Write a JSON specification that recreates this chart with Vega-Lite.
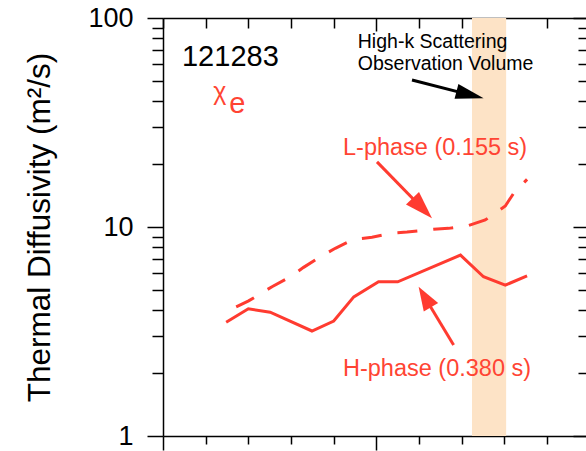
{
  "$schema": "https://vega.github.io/schema/vega-lite/v6.json",
  "width": 423,
  "height": 418,
  "autosize": {"type": "none"},
  "padding": {"left": 163, "top": 18, "right": 0, "bottom": 15},
  "background": "white",
  "config": {"view": {"stroke": null}, "font": "Liberation Sans"},
  "resolve": {"axis": {"x": "independent", "y": "independent"}},
  "layer": [
    {
      "data": {"values": [{"r_start": 0.724, "r_end": 0.804}]},
      "mark": {"type": "rect", "color": "#fde3c6"},
      "encoding": {
        "x": {
          "field": "r_start", "type": "quantitative",
          "scale": {"domain": [0, 0.9911], "nice": false, "zero": false},
          "axis": {
            "orient": "bottom", "values": [0, 0.1, 0.2, 0.3, 0.4, 0.5, 0.6, 0.7, 0.8, 0.9],
            "labels": false, "title": null, "grid": false,
            "domainColor": "black", "domainWidth": 1.5, "tickColor": "black", "tickWidth": 1.5,
            "tickSize": {"condition": {"test": "datum.value === 0 || datum.value === 0.5", "value": 14}, "value": 8}
          }
        },
        "x2": {"field": "r_end"},
        "y": {
          "datum": 1, "type": "quantitative",
          "scale": {"type": "log", "domain": [1, 100], "nice": false},
          "axis": {
            "orient": "left",
            "values": [1, 2, 3, 4, 5, 6, 7, 8, 9, 10, 20, 30, 40, 50, 60, 70, 80, 90, 100],
            "labelExpr": "(datum.value === 1 || datum.value === 10 || datum.value === 100) ? format(datum.value, 'd') : ''",
            "labelOverlap": false, "labelFontSize": 27, "labelColor": "black", "labelPadding": 14,
            "title": "Thermal Diffusivity (m²/s)", "titleFontSize": 31.5, "titleFontWeight": "normal",
            "titleColor": "black", "titlePadding": 31,
            "grid": false, "domainColor": "black", "domainWidth": 1.5, "tickColor": "black", "tickWidth": 1.5,
            "tickSize": {"condition": {"test": "datum.value === 1 || datum.value === 10 || datum.value === 100", "value": 16}, "value": 11}
          }
        },
        "y2": {"datum": 100}
      }
    },
    {
      "data": {"values": [
        {"r": 0.148, "chi": 3.50}, {"r": 0.2, "chi": 4.06}, {"r": 0.251, "chi": 3.91},
        {"r": 0.349, "chi": 3.18}, {"r": 0.40, "chi": 3.55}, {"r": 0.447, "chi": 4.63},
        {"r": 0.505, "chi": 5.47}, {"r": 0.55, "chi": 5.47}, {"r": 0.697, "chi": 7.34},
        {"r": 0.751, "chi": 5.78}, {"r": 0.802, "chi": 5.27}, {"r": 0.853, "chi": 5.83}
      ]},
      "mark": {"type": "line", "color": "#ff3b30", "strokeWidth": 3},
      "encoding": {
        "x": {
          "field": "r", "type": "quantitative",
          "axis": {
            "orient": "top", "values": [0, 0.1, 0.2, 0.3, 0.4, 0.5, 0.6, 0.7, 0.8, 0.9],
            "labels": false, "title": null, "grid": false,
            "domainColor": "black", "domainWidth": 1.5, "tickColor": "black", "tickWidth": 1.5,
            "tickSize": {"condition": {"test": "datum.value === 0.5", "value": -13}, "value": -10}
          }
        },
        "y": {
          "field": "chi", "type": "quantitative",
          "axis": {
            "orient": "right",
            "values": [1, 2, 3, 4, 5, 6, 7, 8, 9, 10, 20, 30, 40, 50, 60, 70, 80, 90, 100],
            "labels": false, "title": null, "grid": false, "domain": false,
            "tickColor": "black", "tickWidth": 1.5,
            "tickSize": {"condition": {"test": "datum.value === 1 || datum.value === 10 || datum.value === 100", "value": -13}, "value": -8}
          }
        }
      }
    },
    {
      "data": {"values": [
        {"r": 0.1715, "chi": 4.15}, {"r": 0.2006, "chi": 4.43}, {"r": 0.2554, "chi": 5.18},
        {"r": 0.2983, "chi": 5.78}, {"r": 0.3294, "chi": 6.41}, {"r": 0.3685, "chi": 7.21},
        {"r": 0.4037, "chi": 7.91}, {"r": 0.4466, "chi": 8.73}, {"r": 0.4897, "chi": 8.93},
        {"r": 0.5326, "chi": 9.33}, {"r": 0.5717, "chi": 9.46}, {"r": 0.634, "chi": 9.75},
        {"r": 0.669, "chi": 9.85}, {"r": 0.712, "chi": 10.1}, {"r": 0.755, "chi": 10.8},
        {"r": 0.802, "chi": 12.6}, {"r": 0.8215, "chi": 14.5}, {"r": 0.853, "chi": 16.9}
      ]},
      "mark": {"type": "line", "color": "#ff3b30", "strokeWidth": 3, "strokeDash": [20, 16]},
      "encoding": {
        "x": {"field": "r", "type": "quantitative", "axis": null},
        "y": {"field": "chi", "type": "quantitative", "axis": null}
      }
    },
    {
      "data": {"values": [{"x": 0.0445, "y": 59.1, "label": "121283"}]},
      "mark": {"type": "text", "align": "left", "baseline": "alphabetic", "fontSize": 29, "color": "black"},
      "encoding": {
        "x": {"field": "x", "type": "quantitative", "axis": null},
        "y": {"field": "y", "type": "quantitative", "axis": null},
        "text": {"field": "label"}
      }
    },
    {
      "data": {"values": [{"x": 0.1178, "y": 40.3, "label": "χ"}]},
      "mark": {"type": "text", "align": "left", "baseline": "alphabetic", "fontSize": 25, "color": "#ff4433"},
      "encoding": {
        "x": {"field": "x", "type": "quantitative", "axis": null},
        "y": {"field": "y", "type": "quantitative", "axis": null},
        "text": {"field": "label"}
      }
    },
    {
      "data": {"values": [{"x": 0.1553, "y": 35.3, "label": "e"}]},
      "mark": {"type": "text", "align": "left", "baseline": "alphabetic", "fontSize": 29, "color": "#ff4433"},
      "encoding": {
        "x": {"field": "x", "type": "quantitative", "axis": null},
        "y": {"field": "y", "type": "quantitative", "axis": null},
        "text": {"field": "label"}
      }
    },
    {
      "data": {"values": [
        {"x": 0.4564, "y": 71.5, "label": "High-k Scattering"},
        {"x": 0.4564, "y": 56.4, "label": "Observation Volume"}
      ]},
      "mark": {"type": "text", "align": "left", "baseline": "alphabetic", "fontSize": 19.5, "color": "black"},
      "encoding": {
        "x": {"field": "x", "type": "quantitative", "axis": null},
        "y": {"field": "y", "type": "quantitative", "axis": null},
        "text": {"field": "label"}
      }
    },
    {
      "data": {"values": [
        {"x": 0.4217, "y": 22.1, "label": "L-phase (0.155 s)"},
        {"x": 0.4217, "y": 1.937, "label": "H-phase (0.380 s)"}
      ]},
      "mark": {"type": "text", "align": "left", "baseline": "alphabetic", "fontSize": 23.5, "color": "#ff4433"},
      "encoding": {
        "x": {"field": "x", "type": "quantitative", "axis": null},
        "y": {"field": "y", "type": "quantitative", "axis": null},
        "text": {"field": "label"}
      }
    },
    {
      "data": {"values": [{"x_tail": 0.5834, "y_tail": 50.5, "x_end": 0.7172, "y_end": 43.0}]},
      "mark": {"type": "rule", "color": "black", "strokeWidth": 3},
      "encoding": {
        "x": {"field": "x_tail", "type": "quantitative", "axis": null},
        "y": {"field": "y_tail", "type": "quantitative", "axis": null},
        "x2": {"field": "x_end"},
        "y2": {"field": "y_end"}
      }
    },
    {
      "data": {"values": [
        {"x_tail": 0.5014, "y_tail": 20.5, "x_end": 0.6057, "y_end": 12.4},
        {"x_tail": 0.6809, "y_tail": 2.725, "x_end": 0.6169, "y_end": 4.49}
      ]},
      "mark": {"type": "rule", "color": "#ff3b30", "strokeWidth": 3},
      "encoding": {
        "x": {"field": "x_tail", "type": "quantitative", "axis": null},
        "y": {"field": "y_tail", "type": "quantitative", "axis": null},
        "x2": {"field": "x_end"},
        "y2": {"field": "y_end"}
      }
    },
    {
      "data": {"values": [{"x_tip": 0.7512, "y_tip": 41.3}]},
      "mark": {"type": "point", "shape": "M0,0 L-2,-0.55 L-2,0.55 Z", "size": 784, "angle": 14.3, "filled": true, "opacity": 1, "color": "black", "strokeWidth": 0},
      "encoding": {
        "x": {"field": "x_tip", "type": "quantitative", "axis": null},
        "y": {"field": "y_tip", "type": "quantitative", "axis": null}
      }
    },
    {
      "data": {"values": [{"x_tip": 0.6303, "y_tip": 11.0}]},
      "mark": {"type": "point", "shape": "M0,0 L-2,-0.65 L-2,0.65 Z", "size": 784, "angle": 45.8, "filled": true, "opacity": 1, "color": "#ff3b30", "strokeWidth": 0},
      "encoding": {
        "x": {"field": "x_tip", "type": "quantitative", "axis": null},
        "y": {"field": "y_tip", "type": "quantitative", "axis": null}
      }
    },
    {
      "data": {"values": [{"x_tip": 0.5989, "y_tip": 5.18}]},
      "mark": {"type": "point", "shape": "M0,0 L-2,-0.7 L-2,0.7 Z", "size": 576, "angle": 239, "filled": true, "opacity": 1, "color": "#ff3b30", "strokeWidth": 0},
      "encoding": {
        "x": {"field": "x_tip", "type": "quantitative", "axis": null},
        "y": {"field": "y_tip", "type": "quantitative", "axis": null}
      }
    }
  ]
}
